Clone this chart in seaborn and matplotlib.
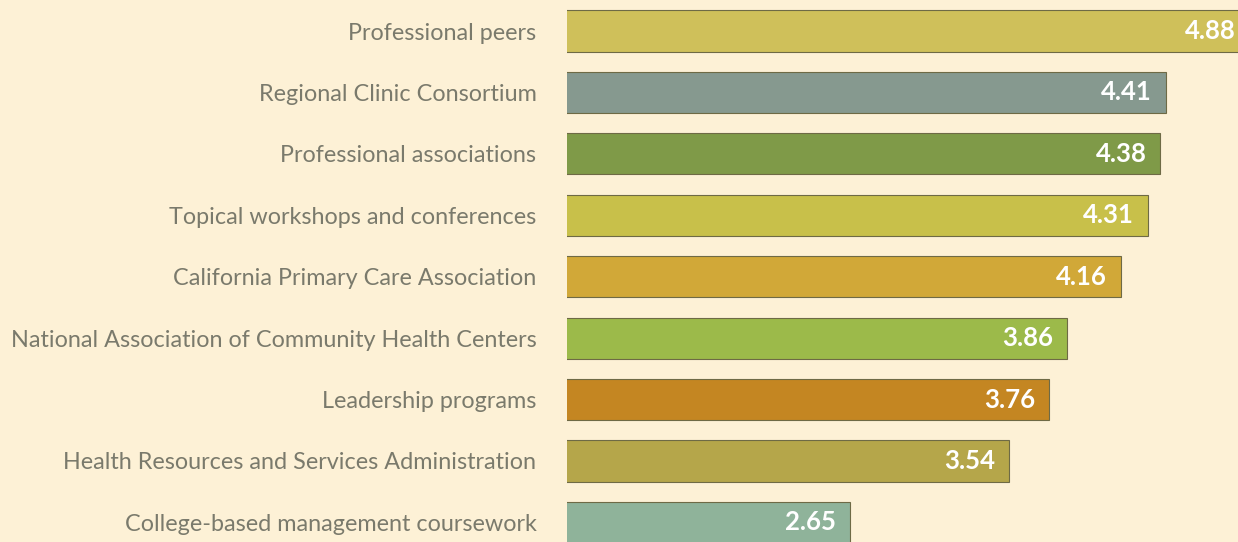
import matplotlib
matplotlib.use("Agg")
import matplotlib.pyplot as plt
import seaborn as sns

# data
sources = [
    "Professional peers",
    "Regional Clinic Consortium",
    "Professional associations",
    "Topical workshops and conferences",
    "California Primary Care Association",
    "National Association of Community Health Centers",
    "Leadership programs",
    "Health Resources and Services Administration",
    "College-based management coursework",
]
scores = [4.88, 4.41, 4.38, 4.31, 4.16, 3.86, 3.76, 3.54, 2.65]
bar_colors = ["#cfc05a", "#86998f", "#7f9a48", "#c8c04a", "#d1a838",
              "#9cba4a", "#c48622", "#b5a64a", "#8fb39a"]

bg = "#fdf1d6"
sns.set_theme(style="white")
plt.rcParams["font.family"] = ["Lato", "DejaVu Sans"]

fig = plt.figure(figsize=(12.38, 5.42), dpi=100, facecolor=bg)
ax = fig.add_axes([567 / 1238, 0, 1 - 567 / 1238, 1])
ax.set_facecolor(bg)

sns.barplot(x=scores, y=sources, hue=sources, palette=bar_colors,
            saturation=1, legend=False, orient="h", width=0.67, ax=ax,
            edgecolor="#6e6a45", linewidth=0.8)

# value labels inside the bar ends
for i, v in enumerate(scores):
    ax.annotate(f"{v:.2f}", xy=(v, i), xytext=(-10, 0),
                textcoords="offset points", ha="right", va="center",
                color="white", fontsize=18.5, fontweight="bold",
                annotation_clip=False)

ax.set_xlim(1.075, 4.813)
ax.set_ylim(8.32, -0.505)
ax.set_xlabel("")
ax.set_ylabel("")
ax.set_xticks([])
ax.tick_params(axis="y", length=0, pad=22, labelsize=16.8, labelcolor="#7a7a6c")
for s in ax.spines.values():
    s.set_visible(False)

fig.savefig("out.png", dpi=100, facecolor=bg)
